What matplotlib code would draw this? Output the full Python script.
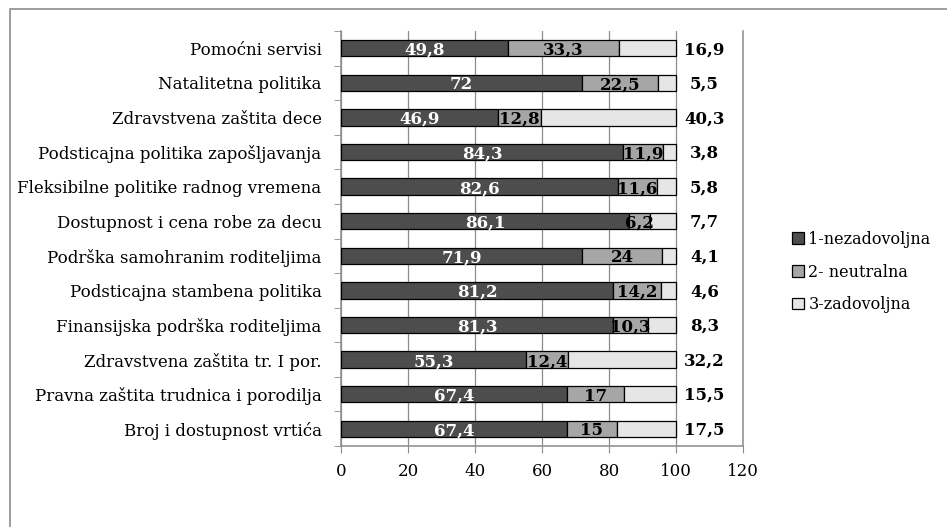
import matplotlib.pyplot as plt
from matplotlib.patches import Rectangle
import numpy as np

categories = ['Pomoćni servisi', 'Natalitetna politika', 'Zdravstvena zaštita dece',
              'Podsticajna politika zapošljavanja', 'Fleksibilne politike radnog vremena',
              'Dostupnost i cena robe za decu', 'Podrška samohranim roditeljima',
              'Podsticajna stambena politika', 'Finansijska podrška roditeljima',
              'Zdravstvena zaštita tr. I por.', 'Pravna zaštita trudnica i porodilja',
              'Broj i dostupnost vrtića']
nezadovoljna = [49.8, 72, 46.9, 84.3, 82.6, 86.1, 71.9, 81.2, 81.3, 55.3, 67.4, 67.4]
neutralna = [33.3, 22.5, 12.8, 11.9, 11.6, 6.2, 24, 14.2, 10.3, 12.4, 17, 15]
zadovoljna = [16.9, 5.5, 40.3, 3.8, 5.8, 7.7, 4.1, 4.6, 8.3, 32.2, 15.5, 17.5]
series_names = ['1-nezadovoljna', '2- neutralna', '3-zadovoljna']
colors = ['#4d4d4d', '#a6a6a6', '#e6e6e6']

plt.rcParams['font.family'] = ['DejaVu Serif']


def fmt(v):
    return f'{v:g}'.replace('.', ',')


fig = plt.figure(figsize=(9.47, 5.27), dpi=100)
# outer chart frame
fig.patches.append(Rectangle((10 / 947, -0.1), 1.2, 1 - 9 / 527 + 0.1,
                             transform=fig.transFigure, fill=False,
                             edgecolor='#8c8c8c', linewidth=1.2))
ax = fig.add_axes([341 / 947, 1 - 446 / 527, (743 - 341) / 947, (446 - 31) / 527])

y = np.arange(len(categories))
left = np.zeros(len(categories))
for vals, name, c in zip([nezadovoljna, neutralna, zadovoljna], series_names, colors):
    ax.barh(y, vals, left=left, height=0.47, color=c, edgecolor='black',
            linewidth=0.9, label=name, zorder=3)
    left = left + np.array(vals)

for i in range(len(categories)):
    x0 = nezadovoljna[i]
    ax.text(x0 / 2, y[i] + 0.06, fmt(nezadovoljna[i]), ha='center', va='center',
            color='white', fontsize=12, fontweight='bold', zorder=4)
    ax.text(x0 + neutralna[i] / 2, y[i] + 0.06, fmt(neutralna[i]), ha='center',
            va='center', color='black', fontsize=12, fontweight='bold', zorder=4)
    ax.text(108.5, y[i] + 0.04, fmt(zadovoljna[i]), ha='center', va='center',
            color='black', fontsize=12, fontweight='bold', zorder=4)

ax.set_xlim(0, 120)
ax.set_ylim(len(categories) - 0.5, -0.5)
ax.set_xticks(range(0, 121, 20))
ax.set_yticks(y)
ax.set_yticklabels(categories, fontsize=12)
ax.set_yticks(np.arange(-0.5, len(categories), 1), minor=True)
ax.tick_params(axis='y', which='major', length=0, pad=14)
ax.tick_params(axis='y', which='minor', length=5, color='#8c8c8c', direction='out')
ax.tick_params(axis='x', length=5, color='#8c8c8c', direction='out', labelsize=12, pad=7)
ax.grid(axis='x', color='#8c8c8c', linewidth=0.9, zorder=0)
ax.set_axisbelow(True)
ax.spines['top'].set_visible(False)
for s in ['left', 'bottom', 'right']:
    ax.spines[s].set_color('#8c8c8c')
    ax.spines[s].set_linewidth(1.1)

fig.legend(loc='center left', bbox_to_anchor=(778 / 947, 1 - 272 / 527),
           frameon=False, fontsize=11.5, handlelength=0.7, handleheight=0.7,
           handletextpad=0.3, labelspacing=1.0)

fig.savefig('out.png', dpi=100)
